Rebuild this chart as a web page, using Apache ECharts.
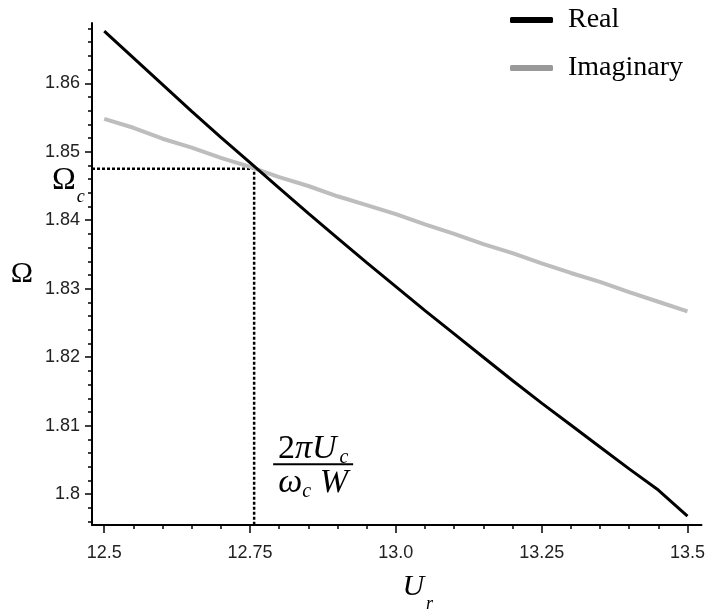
<!DOCTYPE html>
<html>
<head>
<meta charset="utf-8">
<script src="https://cdn.jsdelivr.net/npm/echarts@6/dist/echarts.min.js"></script>
<style>
html, body { margin: 0; padding: 0; background: #fff; }
#main { width: 708px; height: 613px; }
</style>
</head>
<body>
<div id="main"></div>
<script>
// data
var uValues = [12.5, 12.55, 12.6, 12.65, 12.7, 12.75, 12.8, 12.85, 12.9, 12.95, 13.0,
    13.05, 13.1, 13.15, 13.2, 13.25, 13.3, 13.35, 13.4, 13.45, 13.5];
var realValues = [1.8676, 1.8637, 1.8598, 1.8559, 1.8521, 1.8484, 1.8447, 1.8410, 1.8374, 1.8338, 1.8303,
    1.8268, 1.8234, 1.8200, 1.8166, 1.8133, 1.8101, 1.8069, 1.8037, 1.8006, 1.7968];
var imagValues = [1.8548, 1.8535, 1.8519, 1.8506, 1.8491, 1.8478, 1.8463, 1.8450, 1.8435, 1.8422, 1.8409,
    1.8394, 1.8380, 1.8365, 1.8352, 1.8337, 1.8323, 1.8310, 1.8295, 1.8281, 1.8267];

var xTickValues = [12.5, 12.75, 13.0, 13.25, 13.5];
var xTickLabels = ['12.5', '12.75', '13.0', '13.25', '13.5'];
var xMinorTicks = [12.5, 12.55, 12.6, 12.65, 12.7, 12.75, 12.8, 12.85, 12.9, 12.95, 13.0,
    13.05, 13.1, 13.15, 13.2, 13.25, 13.3, 13.35, 13.4, 13.45, 13.5];
var yTickValues = [1.8, 1.81, 1.82, 1.83, 1.84, 1.85, 1.86];
var yTickLabels = ['1.8', '1.81', '1.82', '1.83', '1.84', '1.85', '1.86'];
var yMinorTicks = [1.796, 1.798, 1.800, 1.802, 1.804, 1.806, 1.808, 1.810, 1.812, 1.814,
    1.816, 1.818, 1.820, 1.822, 1.824, 1.826, 1.828, 1.830, 1.832, 1.834, 1.836, 1.838,
    1.840, 1.842, 1.844, 1.846, 1.848, 1.850, 1.852, 1.854, 1.856, 1.858, 1.860, 1.862,
    1.864, 1.866, 1.868];

var xMin = 12.479, xMax = 13.524;
var yMin = 1.7955, yMax = 1.8688;
var critU = 12.757, critOmega = 1.8475;

function pairs(xs, ys) {
    return xs.map(function (x, i) { return [x, ys[i]]; });
}
function pick(values, labels) {
    return function (v) {
        for (var i = 0; i < values.length; i++) {
            if (Math.abs(values[i] - v) < 1e-9) return labels[i];
        }
        return '';
    };
}

var chart = echarts.init(document.getElementById('main'));
var labelFont = {
    fontFamily: 'Liberation Sans',
    fontSize: 18,
    color: '#222'
};

var option = {
    animation: false,
    grid: {
        left: 92,
        right: 6,
        top: 23,
        bottom: 88
    },
    legend: {
        orient: 'vertical',
        left: 505,
        top: 1,
        itemWidth: 43,
        itemHeight: 6,
        itemGap: 20,
        icon: 'roundRect',
        textStyle: {
            fontFamily: 'Liberation Serif',
            fontSize: 28,
            color: '#000',
            padding: [0, 0, 0, 10]
        },
        data: [{
            name: 'Real',
            itemStyle: { color: '#000' }
        }, {
            name: 'Imaginary',
            itemStyle: { color: '#999' }
        }]
    },
    xAxis: [{
        type: 'value',
        position: 'bottom',
        min: xMin,
        max: xMax,
        splitLine: { show: false },
        axisLine: { onZero: false, lineStyle: { color: '#000', width: 2 } },
        axisTick: { customValues: xTickValues, length: 8, lineStyle: { color: '#000', width: 1.5 } },
        axisLabel: Object.assign({ customValues: xTickValues, margin: 19, formatter: pick(xTickValues, xTickLabels) }, labelFont)
    }, {
        // minor ticks
        type: 'value',
        position: 'bottom',
        min: xMin,
        max: xMax,
        splitLine: { show: false },
        axisLine: { show: false, onZero: false },
        axisTick: { customValues: xMinorTicks, length: 4, lineStyle: { color: '#000', width: 1.5 } },
        axisLabel: { show: false }
    }],
    yAxis: [{
        type: 'value',
        position: 'left',
        min: yMin,
        max: yMax,
        splitLine: { show: false },
        axisLine: { show: true, onZero: false, lineStyle: { color: '#000', width: 2 } },
        axisTick: { show: true, customValues: yTickValues, length: 7, lineStyle: { color: '#000', width: 1.5 } },
        axisLabel: Object.assign({ customValues: yTickValues, margin: 12, formatter: pick(yTickValues, yTickLabels) }, labelFont)
    }, {
        type: 'value',
        position: 'left',
        min: yMin,
        max: yMax,
        splitLine: { show: false },
        axisLine: { show: false, onZero: false },
        axisTick: { show: true, customValues: yMinorTicks, length: 4, lineStyle: { color: '#000', width: 1.5 } },
        axisLabel: { show: false }
    }],
    series: [{
        name: 'critical',
        type: 'line',
        xAxisIndex: 0,
        yAxisIndex: 0,
        showSymbol: false,
        silent: true,
        data: [[xMin, critOmega], [critU, critOmega], [critU, yMin]],
        lineStyle: { color: '#000', width: 2.5, type: [3, 2] }
    }, {
        name: 'Imaginary',
        type: 'line',
        xAxisIndex: 0,
        yAxisIndex: 0,
        showSymbol: false,
        color: '#bdbdbd',
        data: pairs(uValues, imagValues),
        lineStyle: { color: '#bdbdbd', width: 4 }
    }, {
        name: 'Real',
        type: 'line',
        xAxisIndex: 0,
        yAxisIndex: 0,
        showSymbol: false,
        color: '#000',
        data: pairs(uValues, realValues),
        lineStyle: { color: '#000', width: 3 }
    }]
};
chart.setOption(option);

// math labels
var ctx = document.createElement('canvas').getContext('2d');
function widthOf(text, font) {
    ctx.font = font;
    return ctx.measureText(text).width;
}
function txt(x, y, text, font, align) {
    return {
        type: 'text',
        x: x,
        y: y,
        style: {
            text: text,
            font: font,
            fill: '#000',
            align: align || 'left',
            textAlign: align || 'left',
            verticalAlign: 'middle',
            textVerticalAlign: 'middle'
        }
    };
}
var bigR = '30px "Liberation Serif"';
var omR = '32px "Liberation Serif"';
var bigI = 'italic 30px "Liberation Serif"';
var subI = 'italic 18px "Liberation Serif"';
var fracR = '34px "Liberation Serif"';
var fracI = 'italic 34px "Liberation Serif"';
var fracS = 'italic 20px "Liberation Serif"';

var pc = chart.convertToPixel({ gridIndex: 0 }, [critU, critOmega]);
var pa = chart.convertToPixel({ gridIndex: 0 }, [xMin, yMin]);
var pb = chart.convertToPixel({ gridIndex: 0 }, [xMax, yMax]);
var p18 = chart.convertToPixel({ gridIndex: 0 }, [critU, 1.8]);

var els = [];
// y axis name
els.push(txt(22, (pa[1] + pb[1]) / 2, 'Ω', bigR, 'center'));
// Omega_c at the dotted line
els.push(txt(pa[0] - 40, pc[1] + 12, 'Ω', omR));
els.push(txt(pa[0] - 40 + widthOf('Ω', omR) + 1, pc[1] + 28, 'c', subI));
// x axis name
var uw = widthOf('U', bigI) + widthOf('r', subI) + 2;
var ux = (pa[0] + pb[0]) / 2 + 21 - uw / 2;
els.push(txt(ux, pa[1] + 62, 'U', bigI));
els.push(txt(ux + widthOf('U', bigI) + 2, pa[1] + 79, 'r', subI));

// fraction 2 pi U_c / (omega_c W)
var fx = pc[0] + 59;
var barY = p18[1] - 30;
var numW = widthOf('2', fracR) + widthOf('πU', fracI) + widthOf('c', fracS) + 3;
var nx = fx - numW / 2;
els.push(txt(nx, barY - 15, '2', fracR));
nx += widthOf('2', fracR);
els.push(txt(nx, barY - 15, 'πU', fracI));
nx += widthOf('πU', fracI) + 3;
els.push(txt(nx, barY - 6, 'c', fracS));
var denW = widthOf('ω', fracI) + widthOf('c', fracS) + widthOf(' W', fracI);
var dx = fx - denW / 2;
els.push(txt(dx, barY + 19, 'ω', fracI));
dx += widthOf('ω', fracI);
els.push(txt(dx, barY + 28, 'c', fracS));
dx += widthOf('c', fracS);
els.push(txt(dx, barY + 19, ' W', fracI));
els.push({
    type: 'line',
    shape: { x1: fx - 40, y1: barY, x2: fx + 40, y2: barY },
    style: { stroke: '#000', lineWidth: 2 }
});

chart.setOption({ graphic: els });
</script>
</body>
</html>
